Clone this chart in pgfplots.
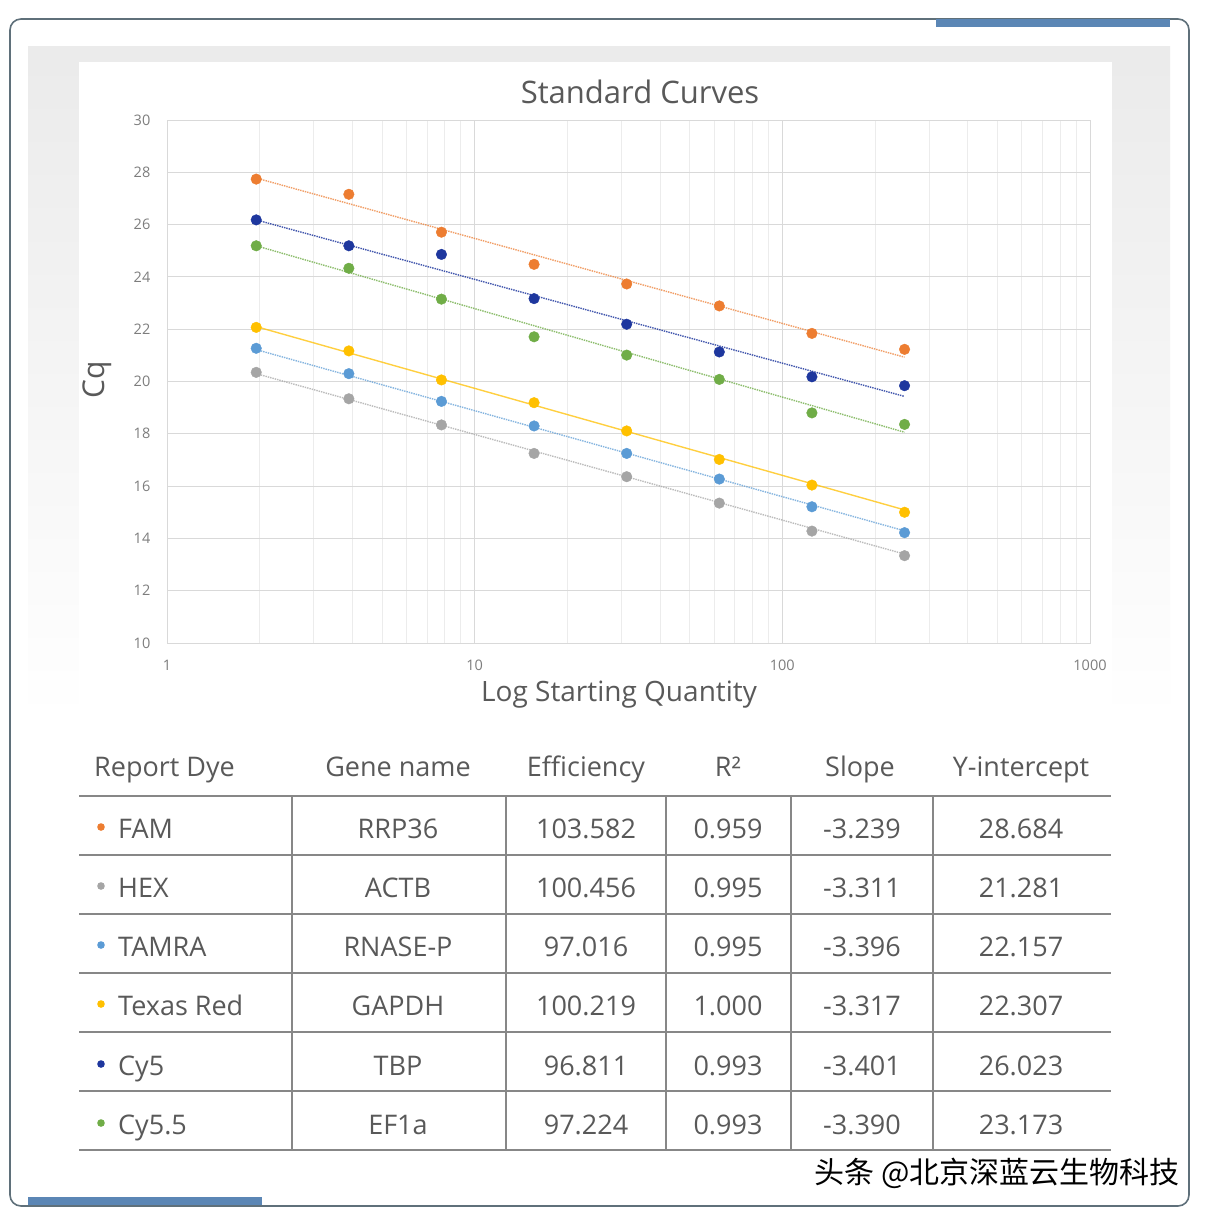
\documentclass[border=0pt]{standalone}
\usepackage{pgfplots}
\pgfplotsset{compat=1.18}
\usepackage{fontspec}
\setmainfont{Open Sans}
\newfontfamily\cjk{Noto Sans CJK SC}
\definecolor{cFAM}{RGB}{237,125,49}
\definecolor{cHEX}{RGB}{165,165,165}
\definecolor{cTAM}{RGB}{91,155,213}
\definecolor{cTXR}{RGB}{255,192,0}
\definecolor{cCY5}{RGB}{30,55,158}
\definecolor{cCY55}{RGB}{112,173,71}
\definecolor{txt}{RGB}{89,89,89}
\definecolor{tick}{RGB}{125,125,125}
\definecolor{gmaj}{RGB}{217,217,217}
\definecolor{gmin}{RGB}{236,236,236}
\definecolor{frame}{RGB}{95,112,122}
\definecolor{bar}{RGB}{91,134,181}
\definecolor{tline}{RGB}{135,135,135}
\newcommand{\fs}[1]{\fontsize{#1}{#1}\selectfont}
\begin{document}
\begin{tikzpicture}
\path[use as bounding box] (0pt,0pt) rectangle (1206pt,-1216pt);
\begin{scope}[x=1pt,y=-1pt]
  \fill[white] (0,0) rectangle (1206,1216);
  \shade[top color=black!8, bottom color=white] (28,46) rectangle (1170,720);
  \fill[white] (79,62) rectangle (1112,720);
  \draw[frame, line width=1.6pt, rounded corners=11pt] (10,19) rectangle (1189,1206);
  \fill[bar] (936,19) rectangle (1170,27);
  \fill[bar] (28,1197) rectangle (262,1205);
  \node[anchor=base, text=txt, inner sep=0] at (640,103) {\fs{31}Standard Curves};
  \node[anchor=center, text=txt, inner sep=0, rotate=90] at (97,380) {\fs{30}Cq};
  \node[anchor=base, text=txt, inner sep=0] at (619,701) {\fs{28}Log Starting Quantity};
\end{scope}
\begin{axis}[
  at={(167pt,-643pt)}, anchor=south west,
  scale only axis, width=923pt, height=523pt,
  xmode=log, log basis x=10,
  xmin=1, xmax=1000, ymin=10, ymax=30,
  xtick={1,10,100,1000}, xticklabels={1,10,100,1000},
  minor xtick={2,3,4,5,6,7,8,9,20,30,40,50,60,70,80,90,200,300,400,500,600,700,800,900},
  ytick={10,12,14,16,18,20,22,24,26,28,30},
  grid=both,
  major grid style={draw=gmaj, line width=0.9pt},
  minor grid style={draw=gmin, line width=0.8pt},
  axis line style={draw=gmaj, line width=1pt},
  major tick length=0pt, minor tick length=0pt,
  tick label style={font=\fs{14.5}, text=tick},
  /pgf/number format/assume math mode=true,
  xticklabel style={anchor=center, yshift=-22pt},
  yticklabel style={anchor=center, xshift=-25pt},
  clip=false,
]
\addplot[cFAM, densely dotted, line width=1.4pt, opacity=0.75] coordinates {(1.95,27.78) (249.6,20.93)};
\addplot[cHEX, densely dotted, line width=1.4pt, opacity=0.75] coordinates {(1.95,20.30) (249.6,13.40)};
\addplot[cTAM, densely dotted, line width=1.4pt, opacity=0.75] coordinates {(1.95,21.22) (249.6,14.29)};
\addplot[cTXR, line width=1.4pt, opacity=0.75] coordinates {(1.95,22.10) (249.6,15.09)};
\addplot[cCY5, densely dotted, line width=1.4pt, opacity=0.85] coordinates {(1.95,26.18) (249.6,19.43)};
\addplot[cCY55, densely dotted, line width=1.4pt, opacity=0.8] coordinates {(1.95,25.19) (249.6,18.06)};
\addplot[only marks, mark=*, mark size=5.3pt, cFAM] coordinates {(1.95,27.74) (3.9,27.16) (7.8,25.71) (15.6,24.48) (31.2,23.73) (62.4,22.89) (124.8,21.84) (249.6,21.23)};
\addplot[only marks, mark=*, mark size=5.3pt, cHEX] coordinates {(1.95,20.35) (3.9,19.34) (7.8,18.34) (15.6,17.25) (31.2,16.36) (62.4,15.35) (124.8,14.28) (249.6,13.34)};
\addplot[only marks, mark=*, mark size=5.3pt, cTAM] coordinates {(1.95,21.27) (3.9,20.30) (7.8,19.24) (15.6,18.30) (31.2,17.25) (62.4,16.27) (124.8,15.21) (249.6,14.22)};
\addplot[only marks, mark=*, mark size=5.3pt, cTXR] coordinates {(1.95,22.07) (3.9,21.17) (7.8,20.06) (15.6,19.19) (31.2,18.11) (62.4,17.02) (124.8,16.04) (249.6,15.00)};
\addplot[only marks, mark=*, mark size=5.3pt, cCY5] coordinates {(1.95,26.18) (3.9,25.19) (7.8,24.86) (15.6,23.17) (31.2,22.19) (62.4,21.13) (124.8,20.18) (249.6,19.84)};
\addplot[only marks, mark=*, mark size=5.3pt, cCY55] coordinates {(1.95,25.19) (3.9,24.33) (7.8,23.15) (15.6,21.71) (31.2,21.01) (62.4,20.08) (124.8,18.80) (249.6,18.36)};
\end{axis}
\begin{scope}[x=1pt,y=-1pt]
  \foreach \yy in {796,855,914,973,1032,1091,1150} \draw[tline, line width=1.5pt] (79,\yy) -- (1111,\yy);
  \foreach \xx in {292,506,666,791,933} \draw[tline, line width=1.5pt] (\xx,796) -- (\xx,1150);
  \begin{scope}[every node/.style={anchor=base, text=txt, inner sep=0}]
  \node[anchor=base west] at (94,776) {\fs{27}Report Dye};
  \node at (398,776) {\fs{27}Gene name};
  \node at (586,776) {\fs{27}Efficiency};
  \node at (728,776) {\fs{27}R²};
  \node at (860,776) {\fs{27}Slope};
  \node at (1021,776) {\fs{27}Y-intercept};
  \foreach \b/\c/\dye/\gene/\eff/\rr/\sl/\yi in {
     838/cFAM/FAM/RRP36/103.582/0.959/-3.239/28.684,
     897/cHEX/HEX/ACTB/100.456/0.995/-3.311/21.281,
     956/cTAM/TAMRA/RNASE-P/97.016/0.995/-3.396/22.157,
     1015/cTXR/Texas Red/GAPDH/100.219/1.000/-3.317/22.307,
     1075/cCY5/Cy5/TBP/96.811/0.993/-3.401/26.023,
     1134/cCY55/Cy5.5/EF1a/97.224/0.993/-3.390/23.173}{
    \fill[\c] (101,\b-11) circle (3.8);
    \node[anchor=base west] at (118,\b) {\fs{27}\dye};
    \node at (398,\b) {\fs{27}\gene};
    \node at (586,\b) {\fs{27}\eff};
    \node at (728,\b) {\fs{27}\rr};
    \node at (862,\b) {\fs{27}\sl};
    \node at (1021,\b) {\fs{27}\yi};
  }
  \end{scope}
  \node[anchor=east, inner sep=0, text=black] at (1180,1173) {\cjk\fs{30}头条 @北京深蓝云生物科技};
\end{scope}
\end{tikzpicture}
\end{document}
